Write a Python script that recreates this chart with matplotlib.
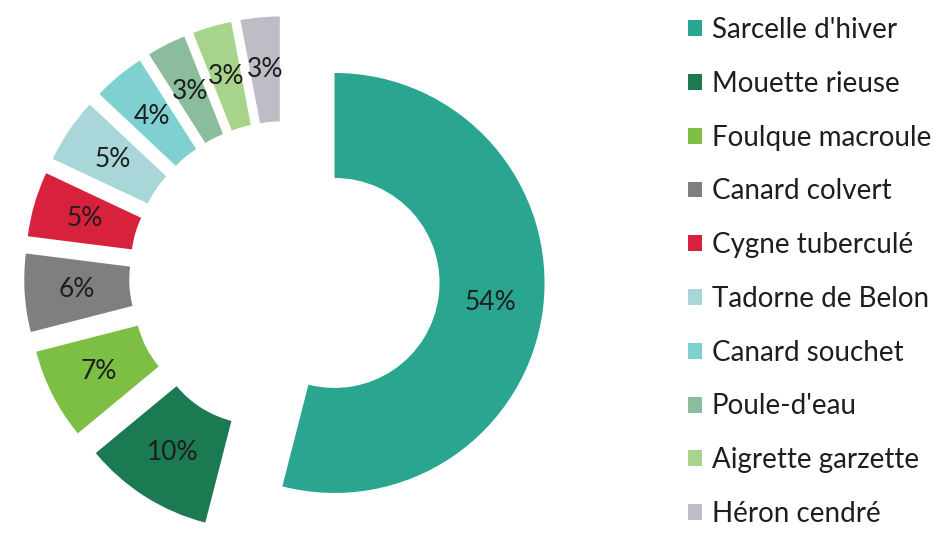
import matplotlib
matplotlib.use("Agg")
import matplotlib.pyplot as plt

species = ["Sarcelle d'hiver", "Mouette rieuse", "Foulque macroule", "Canard colvert",
           "Cygne tuberculé", "Tadorne de Belon", "Canard souchet", "Poule-d'eau",
           "Aigrette garzette", "Héron cendré"]
shares = [54, 10, 7, 6, 5, 5, 4, 3, 3, 3]
colors = ["#2aa690", "#1b7a52", "#7dbf45", "#7f7f7f", "#d8223d",
          "#a9d6d8", "#7fd0d0", "#8bbd9c", "#a8d38b", "#bdbdc5"]

plt.rcParams['font.family'] = ['Lato', 'DejaVu Sans']

fig = plt.figure(figsize=(9.37, 5.35), dpi=100)
ax = fig.add_axes([0, 0, 1, 1])
wedges, texts, autotexts = ax.pie(
    shares, colors=colors, startangle=90, counterclock=False,
    explode=[0.24] * len(shares), radius=1.0,
    wedgeprops=dict(width=0.5, linewidth=0),
    autopct=lambda p: f"{p:.0f}%", pctdistance=0.75,
    textprops=dict(fontsize=19, color="#1e1e1e"))
ax.set_aspect('equal')
ax.set_xlim(-1.355, 3.107)
ax.set_ylim(-1.230, 1.317)
ax.axis('off')

ax.legend(wedges, species, loc='upper left', bbox_to_anchor=(688 / 937, 1 - 17 / 535),
          bbox_transform=fig.transFigure, frameon=False, fontsize=20,
          handlelength=0.5, handleheight=0.5, handletextpad=0.35,
          labelspacing=1.0, borderaxespad=0, borderpad=0, labelcolor="#1e1e1e")

fig.savefig("out.png", dpi=100)
